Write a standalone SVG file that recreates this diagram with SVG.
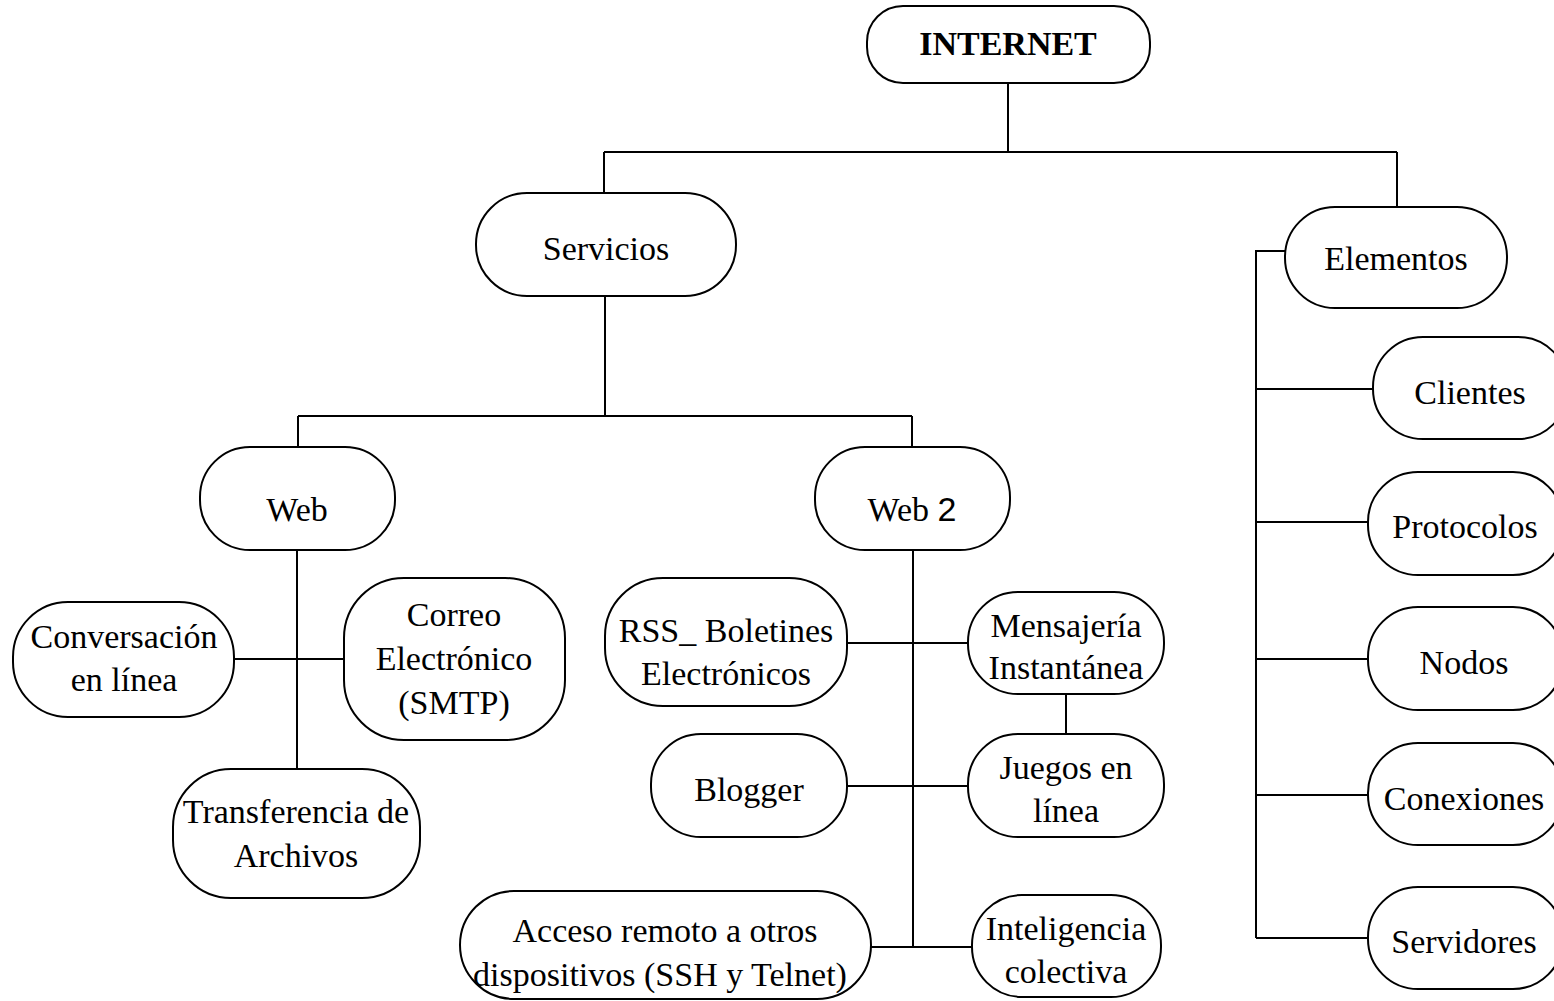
<svg xmlns="http://www.w3.org/2000/svg" width="1554" height="1001" viewBox="0 0 1554 1001">
<style>
.n{fill:#fff;stroke:#000;stroke-width:2}
.c{fill:none;stroke:#000;stroke-width:2}
text{font-family:"Liberation Serif","Times New Roman",serif;font-size:34px;fill:#000;text-anchor:middle}
.b{font-weight:bold}
.s{font-family:"Liberation Sans",Arial,sans-serif}
</style>
<rect width="1554" height="1001" fill="#fff"/>
<g id="connectors">
<path class="c" d="M1008,83 V152 M604,152 H1397 M604,152 V193 M1397,152 V207"/>
<path class="c" d="M605,296 V416 M298,416 H912 M298,416 V447 M912,416 V447"/>
<path class="c" d="M297,550 V769 M235,659 H344"/>
<path class="c" d="M913,550 V947 M847,643 H968 M847,786 H968 M1066,694 V734 M871,947 H972"/>
<path class="c" d="M1285,251 H1256 V938 M1256,389 H1373 M1256,522 H1368 M1256,659 H1368 M1256,795 H1368 M1256,938 H1368"/>
</g>
<g id="internet"><rect class="n" x="867" y="6" width="283" height="77" rx="36"/><text class="b" x="1008" y="55">INTERNET</text></g>
<g id="servicios"><rect class="n" x="476" y="193" width="260" height="103" rx="51"/><text x="606" y="260">Servicios</text></g>
<g id="elementos"><rect class="n" x="1285" y="207" width="222" height="101" rx="50"/><text x="1396" y="270">Elementos</text></g>
<g id="clientes"><rect class="n" x="1373" y="337" width="195" height="102" rx="50"/><text x="1470" y="404">Clientes</text></g>
<g id="protocolos"><rect class="n" x="1368" y="472" width="195" height="103" rx="50"/><text x="1465" y="538">Protocolos</text></g>
<g id="nodos"><rect class="n" x="1368" y="607" width="195" height="103" rx="50"/><text x="1464" y="674">Nodos</text></g>
<g id="conexiones"><rect class="n" x="1368" y="743" width="195" height="102" rx="50"/><text x="1464" y="810">Conexiones</text></g>
<g id="servidores"><rect class="n" x="1368" y="887" width="195" height="102" rx="50"/><text x="1464" y="953">Servidores</text></g>
<g id="web"><rect class="n" x="200" y="447" width="195" height="103" rx="50"/><text x="297" y="521">Web</text></g>
<g id="web2"><rect class="n" x="815" y="447" width="195" height="103" rx="50"/><text x="912" y="521">Web <tspan class="s">2</tspan></text></g>
<g id="conversacion"><rect class="n" x="13" y="602" width="221" height="115" rx="55"/><text x="124" y="648">Conversación</text><text x="124" y="691">en línea</text></g>
<g id="correo"><rect class="n" x="344" y="578" width="221" height="162" rx="60"/><text x="454" y="626">Correo</text><text x="454" y="670">Electrónico</text><text x="454" y="714">(SMTP)</text></g>
<g id="transferencia"><rect class="n" x="173" y="769" width="247" height="129" rx="58"/><text x="296" y="823">Transferencia de</text><text x="296" y="867">Archivos</text></g>
<g id="rss"><rect class="n" x="605" y="578" width="242" height="128" rx="58"/><text x="726" y="642">RSS_ Boletines</text><text x="726" y="685">Electrónicos</text></g>
<g id="mensajeria"><rect class="n" x="968" y="592" width="196" height="102" rx="50"/><text x="1066" y="637">Mensajería</text><text x="1066" y="679">Instantánea</text></g>
<g id="blogger"><rect class="n" x="651" y="734" width="196" height="103" rx="50"/><text x="749" y="801">Blogger</text></g>
<g id="juegos"><rect class="n" x="968" y="734" width="196" height="103" rx="50"/><text x="1066" y="779">Juegos en</text><text x="1066" y="822">línea</text></g>
<g id="acceso"><rect class="n" x="460" y="891" width="411" height="108" rx="54"/><text x="665" y="942">Acceso remoto a otros</text><text x="660" y="986">dispositivos (SSH y Telnet)</text></g>
<g id="inteligencia"><rect class="n" x="972" y="895" width="189" height="102" rx="50"/><text x="1066" y="940">Inteligencia</text><text x="1066" y="983">colectiva</text></g>
</svg>
